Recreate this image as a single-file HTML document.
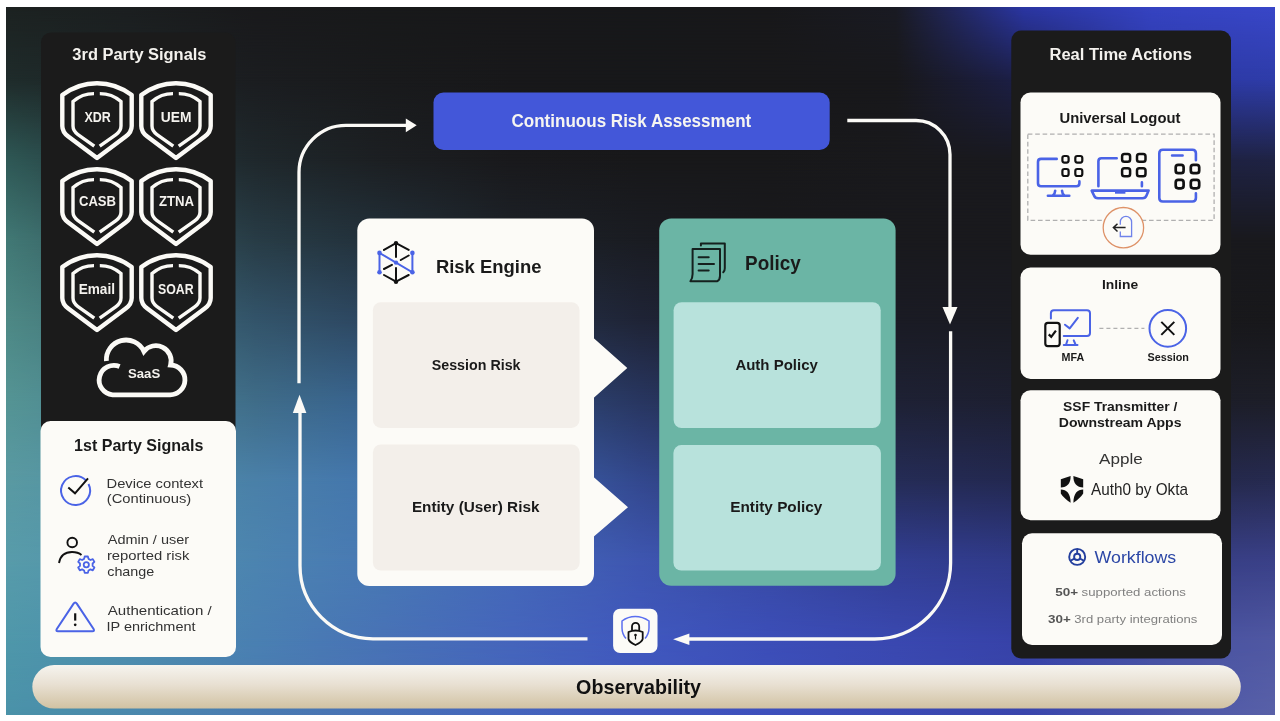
<!DOCTYPE html>
<html><head><meta charset="utf-8">
<style>
*{margin:0;padding:0;box-sizing:border-box}
html,body{width:1280px;height:721px;background:#fff;overflow:hidden}
body{position:relative;font-family:"Liberation Sans",sans-serif}
#bg{position:absolute;left:6px;top:7px;width:1269px;height:708px;background:#18191b;overflow:hidden}
.bgl{position:absolute;left:0;top:0;width:1269px;height:708px}
svg{position:absolute;left:0;top:0;will-change:transform}
</style></head><body>
<div id="bg"><!--BG-->
<div class="bgl" style="background:linear-gradient(to right, #1c2120 -6px, #1b1e1f 122px, #19191b 250px, #18191a 378px, #18181a 506px, #17181a 634px, #18181a 762px, #1a1b24 890px, #2c38ac 1018px, #3644c4 1146px, #3a48cc 1274px)"></div>
<div class="bgl" style="background:linear-gradient(to right, #1f2c2b -6px, #1d2426 122px, #1b1d20 250px, #191a1c 378px, #18181a 506px, #17181a 634px, #18181a 762px, #18181b 890px, #1c1f48 1018px, #2c38a4 1146px, #2e3ca8 1274px);-webkit-mask-image:linear-gradient(to bottom, transparent -7px, #000 73px);mask-image:linear-gradient(to bottom, transparent -7px, #000 73px)"></div>
<div class="bgl" style="background:linear-gradient(to right, #2f5a57 -6px, #25383c 122px, #1f282c 250px, #1c1f22 378px, #19191c 506px, #18181a 634px, #18181a 762px, #19191c 890px, #19191e 1018px, #1d2040 1146px, #1f2344 1274px);-webkit-mask-image:linear-gradient(to bottom, transparent 73px, #000 153px);mask-image:linear-gradient(to bottom, transparent 73px, #000 153px)"></div>
<div class="bgl" style="background:linear-gradient(to right, #427a76 -6px, #33565c 122px, #283c46 250px, #22303a 378px, #1d2228 506px, #1a1c22 634px, #19191c 762px, #19191d 890px, #19191d 1018px, #19191d 1146px, #19191d 1274px);-webkit-mask-image:linear-gradient(to bottom, transparent 153px, #000 233px);mask-image:linear-gradient(to bottom, transparent 153px, #000 233px)"></div>
<div class="bgl" style="background:linear-gradient(to right, #4e8a86 -6px, #3f6e76 122px, #33546a 250px, #2c4560 378px, #253248 506px, #1f2436 634px, #1c1e2c 762px, #1a1b24 890px, #1a1b22 1018px, #19191c 1146px, #18181b 1274px);-webkit-mask-image:linear-gradient(to bottom, transparent 233px, #000 313px);mask-image:linear-gradient(to bottom, transparent 233px, #000 313px)"></div>
<div class="bgl" style="background:linear-gradient(to right, #559594 -6px, #4a8291 122px, #3f6c88 250px, #376290 378px, #2f4a78 506px, #283660 634px, #232b48 762px, #1e2134 890px, #1d1f30 1018px, #1c1d28 1146px, #1d1e28 1274px);-webkit-mask-image:linear-gradient(to bottom, transparent 313px, #000 393px);mask-image:linear-gradient(to bottom, transparent 313px, #000 393px)"></div>
<div class="bgl" style="background:linear-gradient(to right, #5a9aa2 -6px, #5090a5 122px, #4a80a8 250px, #4375ae 378px, #3c62a8 506px, #33488e 634px, #2b3872 762px, #252c56 890px, #232850 1018px, #242848 1146px, #262a50 1274px);-webkit-mask-image:linear-gradient(to bottom, transparent 393px, #000 473px);mask-image:linear-gradient(to bottom, transparent 393px, #000 473px)"></div>
<div class="bgl" style="background:linear-gradient(to right, #589caa -6px, #5292ac 122px, #4c84b0 250px, #4878b4 378px, #4468b8 506px, #3e56b0 634px, #384aa4 762px, #323e92 890px, #303a88 1018px, #363e82 1146px, #3a4088 1274px);-webkit-mask-image:linear-gradient(to bottom, transparent 473px, #000 553px);mask-image:linear-gradient(to bottom, transparent 473px, #000 553px)"></div>
<div class="bgl" style="background:linear-gradient(to right, #4f98aa -6px, #4d8eae 122px, #4a80b2 250px, #4872b6 378px, #4565bc 506px, #4058be 634px, #3c4eb8 762px, #3a48b0 890px, #3742a8 1018px, #4650a2 1146px, #5058a2 1274px);-webkit-mask-image:linear-gradient(to bottom, transparent 553px, #000 633px);mask-image:linear-gradient(to bottom, transparent 553px, #000 633px)"></div>
<div class="bgl" style="background:linear-gradient(to right, #4a92a8 -6px, #4a88ac 122px, #4a7ab0 250px, #4870b5 378px, #4565bc 506px, #4258be 634px, #3e50bc 762px, #3c4ab4 890px, #3a46ac 1018px, #4a55aa 1146px, #5a62a8 1274px);-webkit-mask-image:linear-gradient(to bottom, transparent 633px, #000 713px);mask-image:linear-gradient(to bottom, transparent 633px, #000 713px)"></div>
<!--/BG--></div>
<svg width="1280" height="721" viewBox="0 0 1280 721" font-family="Liberation Sans, sans-serif">
<defs>
<linearGradient id="obs" x1="0" y1="0" x2="0" y2="1">
<stop offset="0" stop-color="#f6f4ef"/><stop offset="0.45" stop-color="#e8e0d2"/><stop offset="1" stop-color="#d1c2a2"/>
</linearGradient>
<g id="shield" fill="none" stroke="#fbfaf6">
<path stroke-width="4.4" stroke-linejoin="round" d="M41,7.2 Q22,7.2 6.3,19 L6.3,50 Q6.3,56 12.3,60.6 L41,82 L69.7,60.6 Q75.7,56 75.7,50 L75.7,19 Q60,7.2 41,7.2 Z"/>
<path stroke-width="3.4" d="M38,17.6 Q26,17.6 17,25.5 L17,50 Q17,55 22,58.6 L38.3,70.2 M43.8,17.6 Q56,17.6 65,25.5 L65,50 Q65,55 60,58.6 L43.7,70.2"/>
</g>
<g id="sq" fill="none" stroke="#111" stroke-width="2.6"><rect x="0" y="0" width="6.5" height="6.5" rx="2"/></g>
</defs>

<!-- Left black panel -->
<rect x="41" y="32.5" width="194.5" height="420" rx="10" fill="#1b1b1b"/>
<use href="#shield" x="56" y="76"/>
<use href="#shield" x="135" y="76"/>
<use href="#shield" x="56" y="162"/>
<use href="#shield" x="135" y="162"/>
<use href="#shield" x="56" y="248"/>
<use href="#shield" x="135" y="248"/>
<path fill="none" stroke="#fbfaf6" stroke-width="4.8" stroke-linecap="butt" d="M106.4,361 A19.7,19.7 0 0 1 143.9,351.4 A15.3,15.3 0 0 1 170.6,365 A14.2,14.2 0 0 1 169.5,394.8 L112.6,394.8 A14.75,14.75 0 1 1 119.6,366.5"/>

<!-- 1st party -->
<rect x="40.5" y="421" width="195.5" height="236" rx="10" fill="#fcfbf7"/>
<!-- check circle -->
<path fill="none" stroke="#4a63e6" stroke-width="2" d="M86,480.5 A14.5,14.5 0 1 0 88.5,484"/>
<path fill="none" stroke="#111" stroke-width="2" d="M68.3,487.5 L75,493.3 L88,478.3"/>
<!-- person gear -->
<circle cx="72.2" cy="542.5" r="4.8" fill="none" stroke="#111" stroke-width="1.9"/>
<path fill="none" stroke="#111" stroke-width="1.9" d="M59,563 Q61,552 72,552 Q78,552 81.5,555"/>
<g transform="translate(86.3,564.7)" fill="none" stroke="#4a63e6" stroke-width="1.8">
<circle r="2.6"/>
<path d="M-1.6,-8.2 L1.6,-8.2 L2.2,-5.8 L4.2,-4.7 L6.5,-5.6 L8.1,-2.8 L6.3,-1.2 L6.3,1.2 L8.1,2.8 L6.5,5.6 L4.2,4.7 L2.2,5.8 L1.6,8.2 L-1.6,8.2 L-2.2,5.8 L-4.2,4.7 L-6.5,5.6 L-8.1,2.8 L-6.3,1.2 L-6.3,-1.2 L-8.1,-2.8 L-6.5,-5.6 L-4.2,-4.7 L-2.2,-5.8 Z" stroke-linejoin="round"/>
</g>
<!-- warning -->
<path fill="none" stroke="#4a63e6" stroke-width="2" stroke-linejoin="round" d="M73.6,603.6 Q75.2,601.2 76.8,603.6 L93.6,629 Q94.8,631.2 92.4,631.2 L58,631.2 Q55.6,631.2 56.8,629 Z"/>
<path stroke="#111" stroke-width="2.2" d="M75.2,613.3 L75.2,620.6"/>
<circle cx="75.2" cy="624.8" r="1.35" fill="#111"/>

<!-- Center -->
<rect x="433.5" y="92.5" width="396.2" height="57.5" rx="10" fill="#4357d9"/>

<!-- risk engine panel -->
<rect x="357.3" y="218.4" width="236.7" height="367.6" rx="12" fill="#fcfbf7"/>
<path fill="#fcfbf7" d="M593,337.6 L627.3,367.9 L593,398.4 Z M593,476.4 L628,507.2 L593,537.2 Z"/>
<rect x="372.9" y="302.2" width="206.6" height="125.7" rx="8" fill="#f3efea"/>
<rect x="372.9" y="444.5" width="206.8" height="126" rx="8" fill="#f3efea"/>
<!-- risk icon -->
<g stroke="#111" stroke-width="2" fill="none" stroke-linecap="round">
<path d="M396,243.1 L384,249.9 M396,243.1 L408.7,249.9 M396,243.1 L396,257 M396,268 L396,281.7 M396,281.7 L384,275 M396,281.7 L408.7,275 M400.8,260 L408.7,255.5 M384,269 L391.9,264.8"/>
</g>
<circle cx="396" cy="243.1" r="2.2" fill="#111"/><circle cx="396" cy="281.7" r="2.2" fill="#111"/>
<g stroke="#4a63e6" stroke-width="2" fill="none"><path d="M379.5,272.3 L379.5,252.9 L412.4,272.3 L412.4,252.9"/></g>
<g fill="#4a63e6"><circle cx="379.5" cy="252.9" r="2.3"/><circle cx="379.5" cy="272.3" r="2.3"/><circle cx="412.4" cy="252.9" r="2.3"/><circle cx="412.4" cy="272.3" r="2.3"/><circle cx="396" cy="262.6" r="2.2"/></g>

<!-- policy panel -->
<rect x="659.2" y="218.4" width="236.4" height="367.4" rx="12" fill="#6bb5a5"/>
<rect x="673.6" y="302.2" width="207.1" height="125.9" rx="8" fill="#b8e2dc"/>
<rect x="673.4" y="445.1" width="207.5" height="125.5" rx="8" fill="#b8e2dc"/>
<g fill="none" stroke="#15201e" stroke-width="2" stroke-linejoin="round" stroke-linecap="round" transform="translate(684,236)">
<path d="M8.6,13.1 L36,13.1 L36,40 Q36,44 33,45.3 L6.4,45.3 Q8.6,42 8.6,38 Z"/>
<path d="M16.9,9.4 L16.9,7.5 L40.8,7.5 L40.8,32.2 Q40.8,35 39.3,36.3"/>
<path d="M14.6,21.2 L24.7,21.2 M14.6,27.9 L30,27.9 M14.6,34.6 L24.7,34.6"/>
</g>

<!-- arrows -->
<g fill="none" stroke="#fbfaf6" stroke-width="3.3">
<path d="M847.3,120.5 L916,120.5 A34,34 0 0 1 950,154.5 L950,308"/>
<path d="M950.6,331.3 L950.6,563 A76,76 0 0 1 874.6,639 L688,639"/>
<path d="M587.5,638.8 L373,638.8 A73,73 0 0 1 300,565.8 L300,412"/>
<path d="M299,383.3 L299,172.3 A47,47 0 0 1 346,125.3 L407,125.3"/>
</g>
<g fill="#fbfaf6">
<path d="M942.5,307 L957.5,307 L950,324.4 Z"/>
<path d="M689.4,633.5 L673.1,639.2 L689.4,645 Z"/>
<path d="M292.8,413 L299.5,394.8 L306.4,413 Z"/>
<path d="M405.8,118.5 L416.7,125.3 L405.8,132.3 Z"/>
</g>

<!-- lock -->
<rect x="613.1" y="608.8" width="44.4" height="44.3" rx="7" fill="#fcfbf7"/>
<path fill="none" stroke="#5b6ff0" stroke-width="1.5" d="M626,638.5 Q622,634 622,628 L622,621 Q628,616.5 635.3,616.5 Q642.5,616.5 649,621 L649,628 Q649,634 645,638.5"/>
<path fill="none" stroke="#111" stroke-width="1.8" d="M632,630.5 L632,626.5 A3.6,3.6 0 0 1 639.2,626.5 L639.2,630.5"/>
<path fill="#fcfbf7" stroke="#111" stroke-width="1.8" stroke-linejoin="round" d="M628.5,632 Q635.5,629 642.7,632 L642.7,639 Q642,642 635.5,645 Q629,642 628.5,639 Z"/>
<circle cx="635.5" cy="635" r="1.3" fill="#111"/><path d="M635.5,635 L635.5,639.5" stroke="#111" stroke-width="1.2"/>

<!-- observability -->
<rect x="32.3" y="665" width="1208.5" height="43.6" rx="21.8" fill="url(#obs)"/>

<!-- right panel -->
<rect x="1011.3" y="30.5" width="219.7" height="628" rx="10" fill="#1b1b1b"/>
<rect x="1020.5" y="92.5" width="200" height="162.2" rx="10" fill="#fcfbf7"/>
<rect x="1020.5" y="267.5" width="200" height="111.5" rx="10" fill="#fcfbf7"/>
<rect x="1020.5" y="390.3" width="200" height="130" rx="10" fill="#fcfbf7"/>
<rect x="1022" y="533.3" width="200" height="111.7" rx="10" fill="#fcfbf7"/>
<rect x="1027.8" y="134.2" width="186.3" height="86.2" fill="none" stroke="#b0b0b0" stroke-width="1.3" stroke-dasharray="4.6 2.8"/>
<!-- monitor -->
<g fill="none" stroke="#4a63e6" stroke-width="2.6" stroke-linecap="round" stroke-linejoin="round">
<path d="M1056.7,158.9 L1041,158.9 Q1038,158.9 1038,161.9 L1038,183.2 Q1038,186.2 1041,186.2 L1076.4,186.2 Q1079.4,186.2 1079.4,183.2 L1079.4,181.4"/>
<path d="M1055.2,190.7 Q1055,194 1052.9,195.3 M1062,190.7 Q1062.2,194 1064.3,195.3 M1047.9,195.7 L1069.3,195.7"/>
<path d="M1098.4,186.2 L1098.4,161.3 Q1098.4,158.3 1101.4,158.3 L1116.7,158.3 M1141.9,182.4 L1141.9,186.2"/>
<path d="M1091.7,190.6 L1148.6,190.6 L1146.5,195.5 Q1145.5,198.2 1142.5,198.2 L1098,198.2 Q1095,198.2 1094,195.5 Z"/>
<path d="M1195.9,160.3 L1195.9,153.3 Q1195.9,149.8 1192.4,149.8 L1162.8,149.8 Q1159.3,149.8 1159.3,153.3 L1159.3,198 Q1159.3,201.5 1162.8,201.5 L1192.4,201.5 Q1195.9,201.5 1195.9,198 L1195.9,193.2 M1172.1,155.5 L1182.6,155.5"/>
</g>
<rect x="1115" y="190.6" width="10.4" height="3.1" fill="#4a63e6"/>
<g fill="none" stroke="#111">
<g stroke-width="2.2">
<rect x="1062.4" y="156" width="6.2" height="6.6" rx="2"/>
<rect x="1075.3" y="156" width="7" height="6.6" rx="2"/>
<rect x="1062.4" y="169" width="6.2" height="7" rx="2"/>
<rect x="1075.3" y="169" width="7" height="7" rx="2"/>
</g>
<g stroke-width="2.5">
<rect x="1122.1" y="154.1" width="8" height="7.6" rx="2.3"/>
<rect x="1137" y="154.1" width="8.5" height="7.6" rx="2.3"/>
<rect x="1122.1" y="168.2" width="8" height="8" rx="2.3"/>
<rect x="1137" y="168.2" width="8.5" height="8" rx="2.3"/>
</g>
<g stroke-width="2.7">
<rect x="1175.7" y="164.8" width="7.9" height="8.4" rx="2.5"/>
<rect x="1190.8" y="164.8" width="8.4" height="8.4" rx="2.5"/>
<rect x="1175.7" y="179.9" width="7.9" height="8.4" rx="2.5"/>
<rect x="1190.8" y="179.9" width="8.4" height="8.4" rx="2.5"/>
</g>
</g>
<!-- logout -->
<circle cx="1123.4" cy="227.7" r="20.2" fill="#fcfbf7" stroke="#de9268" stroke-width="1.3"/>
<path fill="none" stroke="#6f82ea" stroke-width="1.3" d="M1120.3,224.7 L1120.3,222 A5.65,5.65 0 0 1 1131.6,222 L1131.6,236.5 L1120.3,236.5 L1120.3,231.5"/>
<path fill="none" stroke="#222" stroke-width="1.5" d="M1113.4,227.6 L1125.6,227.6 M1117.5,223.75 L1113.4,227.6 L1117.5,231.5"/>

<!-- inline -->
<g fill="none" stroke="#4a63e6" stroke-width="2" stroke-linecap="round" stroke-linejoin="round">
<path d="M1050.9,318.4 L1050.9,313.3 Q1050.9,310.3 1053.9,310.3 L1087,310.3 Q1090,310.3 1090,313.3 L1090,332.9 Q1090,335.9 1087,335.9 L1063.75,335.9"/>
<path d="M1067.5,340.3 L1066.25,344 M1073.75,340.3 L1075.3,344 M1063.75,345 L1077.5,345"/>
<path d="M1065,324.7 L1069.7,328.4 L1077.8,317.8"/>
</g>
<rect x="1045.3" y="322.8" width="14.4" height="23.4" rx="2.6" fill="#fcfbf7" stroke="#111" stroke-width="2.2"/>
<path fill="none" stroke="#111" stroke-width="2.2" d="M1048.75,334.4 L1051.25,336.9 L1055.9,330.6"/>
<path d="M1099.4,328.4 L1144.4,328.4" stroke="#b0b0b0" stroke-width="1.2" stroke-dasharray="4 3"/>
<circle cx="1167.8" cy="328.4" r="18.3" fill="none" stroke="#4a63e6" stroke-width="2"/>
<path d="M1161.3,321.9 L1174.3,334.9 M1174.3,321.9 L1161.3,334.9" stroke="#111" stroke-width="2"/>

<!-- SSF -->
<g transform="translate(1056,472)" fill="#111">
<path d="M4.8,7.2 L14.6,3.9 C14.8,11.5 11,15.2 4.8,15.4 Z"/>
<path d="M27.2,7.2 L17.4,3.9 C17.2,11.5 21,15.2 27.2,15.4 Z"/>
<path d="M4.8,17.6 C10.5,17.6 14.6,21.5 14.6,30.8 C10,27.5 6.5,24.5 4.8,21.5 Z"/>
<path d="M27.2,17.6 C21.5,17.6 17.4,21.5 17.4,30.8 C22,27.5 25.5,24.5 27.2,21.5 Z"/>
</g>

<!-- workflows -->
<g fill="none" stroke="#243f9e" stroke-width="1.9" transform="translate(1077.2,556.9)">
<circle r="8"/><circle r="3.1"/>
<path d="M0,-3.1 L0,-8 M2.7,1.55 L6.9,4 M-2.7,1.55 L-6.9,4"/>
</g>
<!--TEXT-->
<text x="72.37" y="60" font-size="17.14" font-weight="bold" fill="#f4f2ee" textLength="134.12" lengthAdjust="spacingAndGlyphs">3rd Party Signals</text>
<text x="84.50" y="122" font-size="13.71" font-weight="bold" fill="#f4f2ee" textLength="26.35" lengthAdjust="spacingAndGlyphs">XDR</text>
<text x="160.87" y="122" font-size="13.71" font-weight="bold" fill="#f4f2ee" textLength="30.70" lengthAdjust="spacingAndGlyphs">UEM</text>
<text x="78.98" y="205.8" font-size="13.71" font-weight="bold" fill="#f4f2ee" textLength="37.08" lengthAdjust="spacingAndGlyphs">CASB</text>
<text x="158.94" y="205.8" font-size="13.71" font-weight="bold" fill="#f4f2ee" textLength="35.16" lengthAdjust="spacingAndGlyphs">ZTNA</text>
<text x="78.68" y="294" font-size="13.71" font-weight="bold" fill="#f4f2ee" textLength="36.34" lengthAdjust="spacingAndGlyphs">Email</text>
<text x="158.05" y="294" font-size="13.71" font-weight="bold" fill="#f4f2ee" textLength="35.60" lengthAdjust="spacingAndGlyphs">SOAR</text>
<text x="128.04" y="377.5" font-size="12.71" font-weight="bold" fill="#f4f2ee" textLength="32.15" lengthAdjust="spacingAndGlyphs">SaaS</text>
<text x="74.04" y="450.5" font-size="15.86" font-weight="bold" fill="#1a1a1a" textLength="129.34" lengthAdjust="spacingAndGlyphs">1st Party Signals</text>
<text x="106.52" y="487.5" font-size="13.14" fill="#333333" textLength="96.55" lengthAdjust="spacingAndGlyphs">Device context</text>
<text x="106.82" y="503.4" font-size="13.14" fill="#333333" textLength="84.37" lengthAdjust="spacingAndGlyphs">(Continuous)</text>
<text x="107.80" y="543.7" font-size="13.14" fill="#333333" textLength="81.29" lengthAdjust="spacingAndGlyphs">Admin / user</text>
<text x="106.91" y="560.2" font-size="13.14" fill="#333333" textLength="82.44" lengthAdjust="spacingAndGlyphs">reported risk</text>
<text x="107.23" y="576.3" font-size="13.14" fill="#333333" textLength="46.99" lengthAdjust="spacingAndGlyphs">change</text>
<text x="107.80" y="614.6" font-size="13.14" fill="#333333" textLength="103.87" lengthAdjust="spacingAndGlyphs">Authentication /</text>
<text x="106.50" y="630.7" font-size="13.14" fill="#333333" textLength="89.07" lengthAdjust="spacingAndGlyphs">IP enrichment</text>
<text x="511.52" y="127.1" font-size="17.57" font-weight="bold" fill="#f6f5f1" textLength="239.73" lengthAdjust="spacingAndGlyphs">Continuous Risk Assessment</text>
<text x="435.89" y="272.7" font-size="19.14" font-weight="bold" fill="#1a1a1a" textLength="105.59" lengthAdjust="spacingAndGlyphs">Risk Engine</text>
<text x="431.71" y="369.5" font-size="15.14" font-weight="bold" fill="#1a1a1a" textLength="88.83" lengthAdjust="spacingAndGlyphs">Session Risk</text>
<text x="411.88" y="511.7" font-size="15.43" font-weight="bold" fill="#1a1a1a" textLength="127.56" lengthAdjust="spacingAndGlyphs">Entity (User) Risk</text>
<text x="745.07" y="270.1" font-size="19.43" font-weight="bold" fill="#1a1a1a" textLength="55.66" lengthAdjust="spacingAndGlyphs">Policy</text>
<text x="735.40" y="369.5" font-size="15.14" font-weight="bold" fill="#1a1a1a" textLength="82.44" lengthAdjust="spacingAndGlyphs">Auth Policy</text>
<text x="730.28" y="511.8" font-size="15.14" font-weight="bold" fill="#1a1a1a" textLength="92.06" lengthAdjust="spacingAndGlyphs">Entity Policy</text>
<text x="1049.51" y="60" font-size="17.14" font-weight="bold" fill="#f4f2ee" textLength="142.33" lengthAdjust="spacingAndGlyphs">Real Time Actions</text>
<text x="1059.51" y="123.2" font-size="14.71" font-weight="bold" fill="#1a1a1a" textLength="120.93" lengthAdjust="spacingAndGlyphs">Universal Logout</text>
<text x="1101.92" y="289" font-size="13.29" font-weight="bold" fill="#1a1a1a" textLength="36.19" lengthAdjust="spacingAndGlyphs">Inline</text>
<text x="1061.61" y="361.25" font-size="10.00" font-weight="bold" fill="#1a1a1a" textLength="22.63" lengthAdjust="spacingAndGlyphs">MFA</text>
<text x="1147.53" y="361" font-size="10.00" font-weight="bold" fill="#1a1a1a" textLength="41.47" lengthAdjust="spacingAndGlyphs">Session</text>
<text x="1063.12" y="410.9" font-size="12.86" font-weight="bold" fill="#1a1a1a" textLength="114.19" lengthAdjust="spacingAndGlyphs">SSF Transmitter /</text>
<text x="1058.76" y="427.2" font-size="12.86" font-weight="bold" fill="#1a1a1a" textLength="122.74" lengthAdjust="spacingAndGlyphs">Downstream Apps</text>
<text x="1099.00" y="463.75" font-size="14.79" fill="#333333" textLength="43.72" lengthAdjust="spacingAndGlyphs">Apple</text>
<text x="1091.00" y="494.7" font-size="16.14" fill="#222222" textLength="96.94" lengthAdjust="spacingAndGlyphs">Auth0 by Okta</text>
<text x="1094.60" y="562.8" font-size="17.14" fill="#2c47a6" textLength="81.63" lengthAdjust="spacingAndGlyphs">Workflows</text>
<text x="1055.30" y="595.5" font-size="11.43" font-weight="bold" fill="#555555" textLength="22.86" lengthAdjust="spacingAndGlyphs">50+</text>
<text x="1081.64" y="595.5" font-size="11.43" fill="#808080" textLength="104.26" lengthAdjust="spacingAndGlyphs">supported actions</text>
<text x="1048.13" y="623.4" font-size="11.43" font-weight="bold" fill="#555555" textLength="22.72" lengthAdjust="spacingAndGlyphs">30+</text>
<text x="1074.31" y="623.4" font-size="11.43" fill="#808080" textLength="123.09" lengthAdjust="spacingAndGlyphs">3rd party integrations</text>
<text x="576.11" y="693.75" font-size="19.29" font-weight="bold" fill="#111111" textLength="124.81" lengthAdjust="spacingAndGlyphs">Observability</text>
<!--/TEXT-->
</svg>
</body></html>
